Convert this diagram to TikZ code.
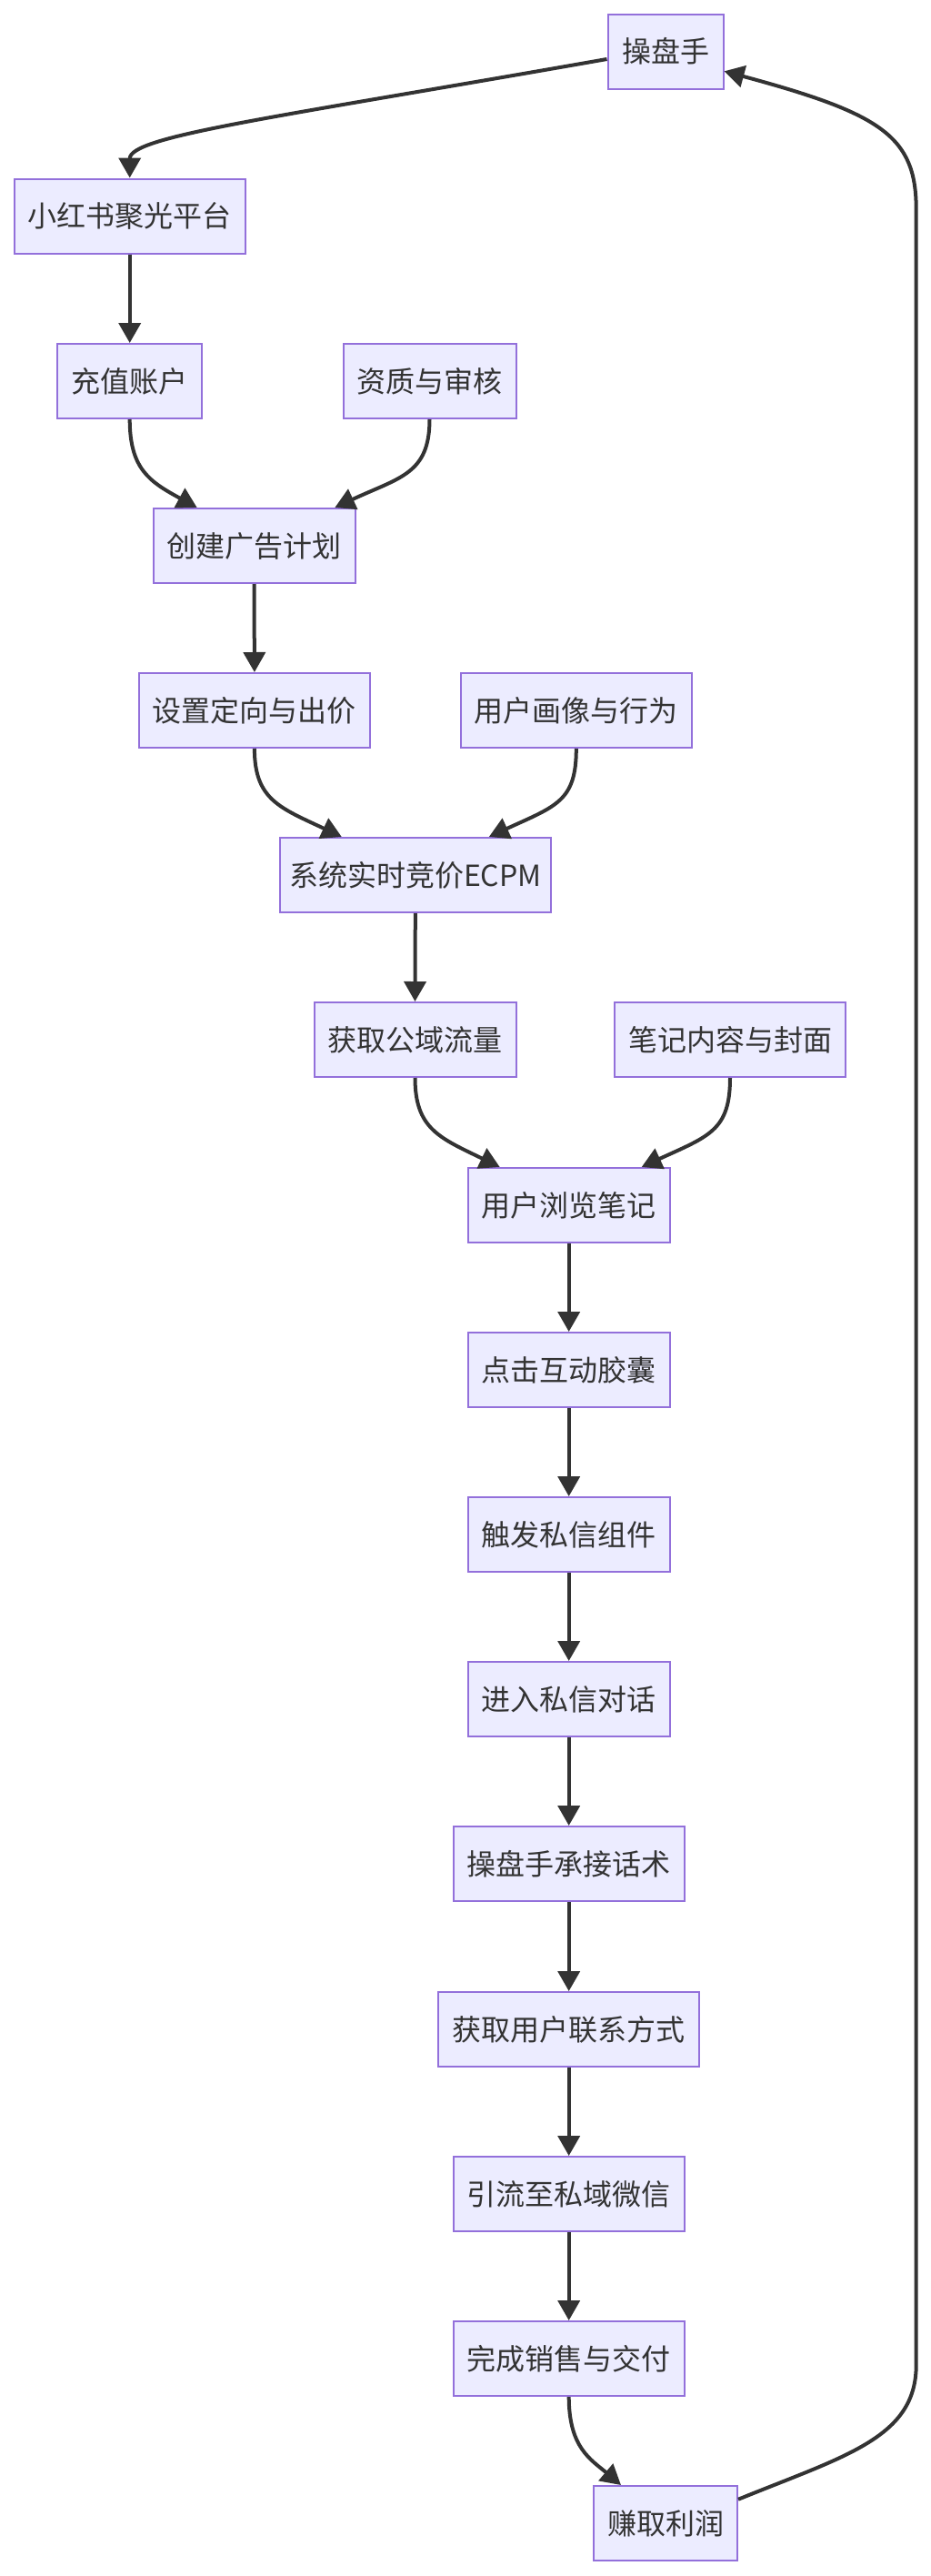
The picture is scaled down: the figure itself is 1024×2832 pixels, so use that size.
\documentclass[tikz,border=0pt]{standalone}
\usepackage{fontspec}
\setmainfont{Noto Sans CJK SC}
\usetikzlibrary{arrows.meta,calc}
\definecolor{boxfill}{HTML}{ECECFF}
\definecolor{boxline}{HTML}{9370DB}
\definecolor{ink}{HTML}{333333}
\begin{document}
\begin{tikzpicture}[x=1pt,y=-1pt,
  box/.style={draw=boxline,fill=boxfill,line width=2pt,inner sep=0pt,
    minimum height=82pt,text=ink,font=\fontsize{32}{38}\selectfont},
  flow/.style={draw=ink,line width=4pt,-{Triangle[length=22pt,width=24pt]}}]
\useasboundingbox (0,0) rectangle (1024,2832);
\fill[white] (0,0) rectangle (1024,2832);
% nodes
\node[box,minimum width=127pt] (cps)  at (732,56.5)   {操盘手};
\node[box,minimum width=254pt] (xhs)  at (142.7,237.5) {小红书聚光平台};
\node[box,minimum width=159pt] (czzh) at (142.7,419)  {充值账户};
\node[box,minimum width=190pt] (zzsh) at (472.5,419)  {资质与审核};
\node[box,minimum width=222pt] (cjgh) at (279.5,600)  {创建广告计划};
\node[box,minimum width=254pt] (szdx) at (279.9,781)  {设置定向与出价};
\node[box,minimum width=254pt] (yhhx) at (633.8,781)  {用户画像与行为};
\node[box,minimum width=298pt] (xtjj) at (456.8,962)  {系统实时竞价ECPM};
\node[box,minimum width=222pt] (hqgy) at (456.5,1143) {获取公域流量};
\node[box,minimum width=254pt] (bjnr) at (803,1143)   {笔记内容与封面};
\node[box,minimum width=222pt] (yhll) at (625.7,1325) {用户浏览笔记};
\node[box,minimum width=222pt] (djhd) at (625.7,1506) {点击互动胶囊};
\node[box,minimum width=222pt] (cfsx) at (625.7,1687) {触发私信组件};
\node[box,minimum width=222pt] (jrsx) at (625.7,1868) {进入私信对话};
\node[box,minimum width=254pt] (cpcj) at (625.7,2049) {操盘手承接话术};
\node[box,minimum width=287pt] (hqlx) at (625.7,2231) {获取用户联系方式};
\node[box,minimum width=254pt] (ylsy) at (625.7,2412) {引流至私域微信};
\node[box,minimum width=254pt] (wcxs) at (625.7,2593) {完成销售与交付};
\node[box,minimum width=158pt] (zqlr) at (732,2774)   {赚取利润};
% loop corner coordinates
\coordinate (rb) at (1007.7,2600);
\coordinate (rt) at (1007.7,230);
% connectors
\draw[flow] ($(cps.west)+(0,8.5)$) .. controls +(-369.3,65) and +(0,-46) .. (xhs.north);
\draw[flow] (xhs.south) -- (czzh.north);
\draw[flow] (czzh.south) .. controls +(0,55) and +(-51.7,-28.3) .. ($(cjgh.north)+(-62.8,0)$);
\draw[flow] (zzsh.south) .. controls +(0,60) and +(71.7,-33.3) .. ($(cjgh.north)+(88.8,0)$);
\draw[flow] (cjgh.south) -- (szdx.north);
\draw[flow] (szdx.south) .. controls +(0,56) and +(-68,-32) .. ($(xtjj.north)+(-81,0)$);
\draw[flow] (yhhx.south) .. controls +(0,58) and +(74,-34) .. ($(xtjj.north)+(81,0)$);
\draw[flow] (xtjj.south) -- (hqgy.north);
\draw[flow] (hqgy.south) .. controls +(0,56) and +(-66,-32) .. ($(yhll.north)+(-76,0)$);
\draw[flow] (bjnr.south) .. controls +(0,58) and +(74,-34) .. ($(yhll.north)+(80,0)$);
\draw[flow] (yhll.south) -- (djhd.north);
\draw[flow] (djhd.south) -- (cfsx.north);
\draw[flow] (cfsx.south) -- (jrsx.north);
\draw[flow] (jrsx.south) -- (cpcj.north);
\draw[flow] (cpcj.south) -- (hqlx.north);
\draw[flow] (hqlx.south) -- (ylsy.north);
\draw[flow] (ylsy.south) -- (wcxs.north);
\draw[flow] (wcxs.south) .. controls +(0,56) and +(-33,-28) .. ($(zqlr.north)+(-49,0)$);
\draw[flow] ($(zqlr.east)+(0,-26.3)$) .. controls +(118,-48) and +(0,80) .. (rb)
  -- (rt) .. controls +(0,-80) and +(173.3,46.7) .. ($(cps.east)+(0,21.8)$);
\end{tikzpicture}
\end{document}
